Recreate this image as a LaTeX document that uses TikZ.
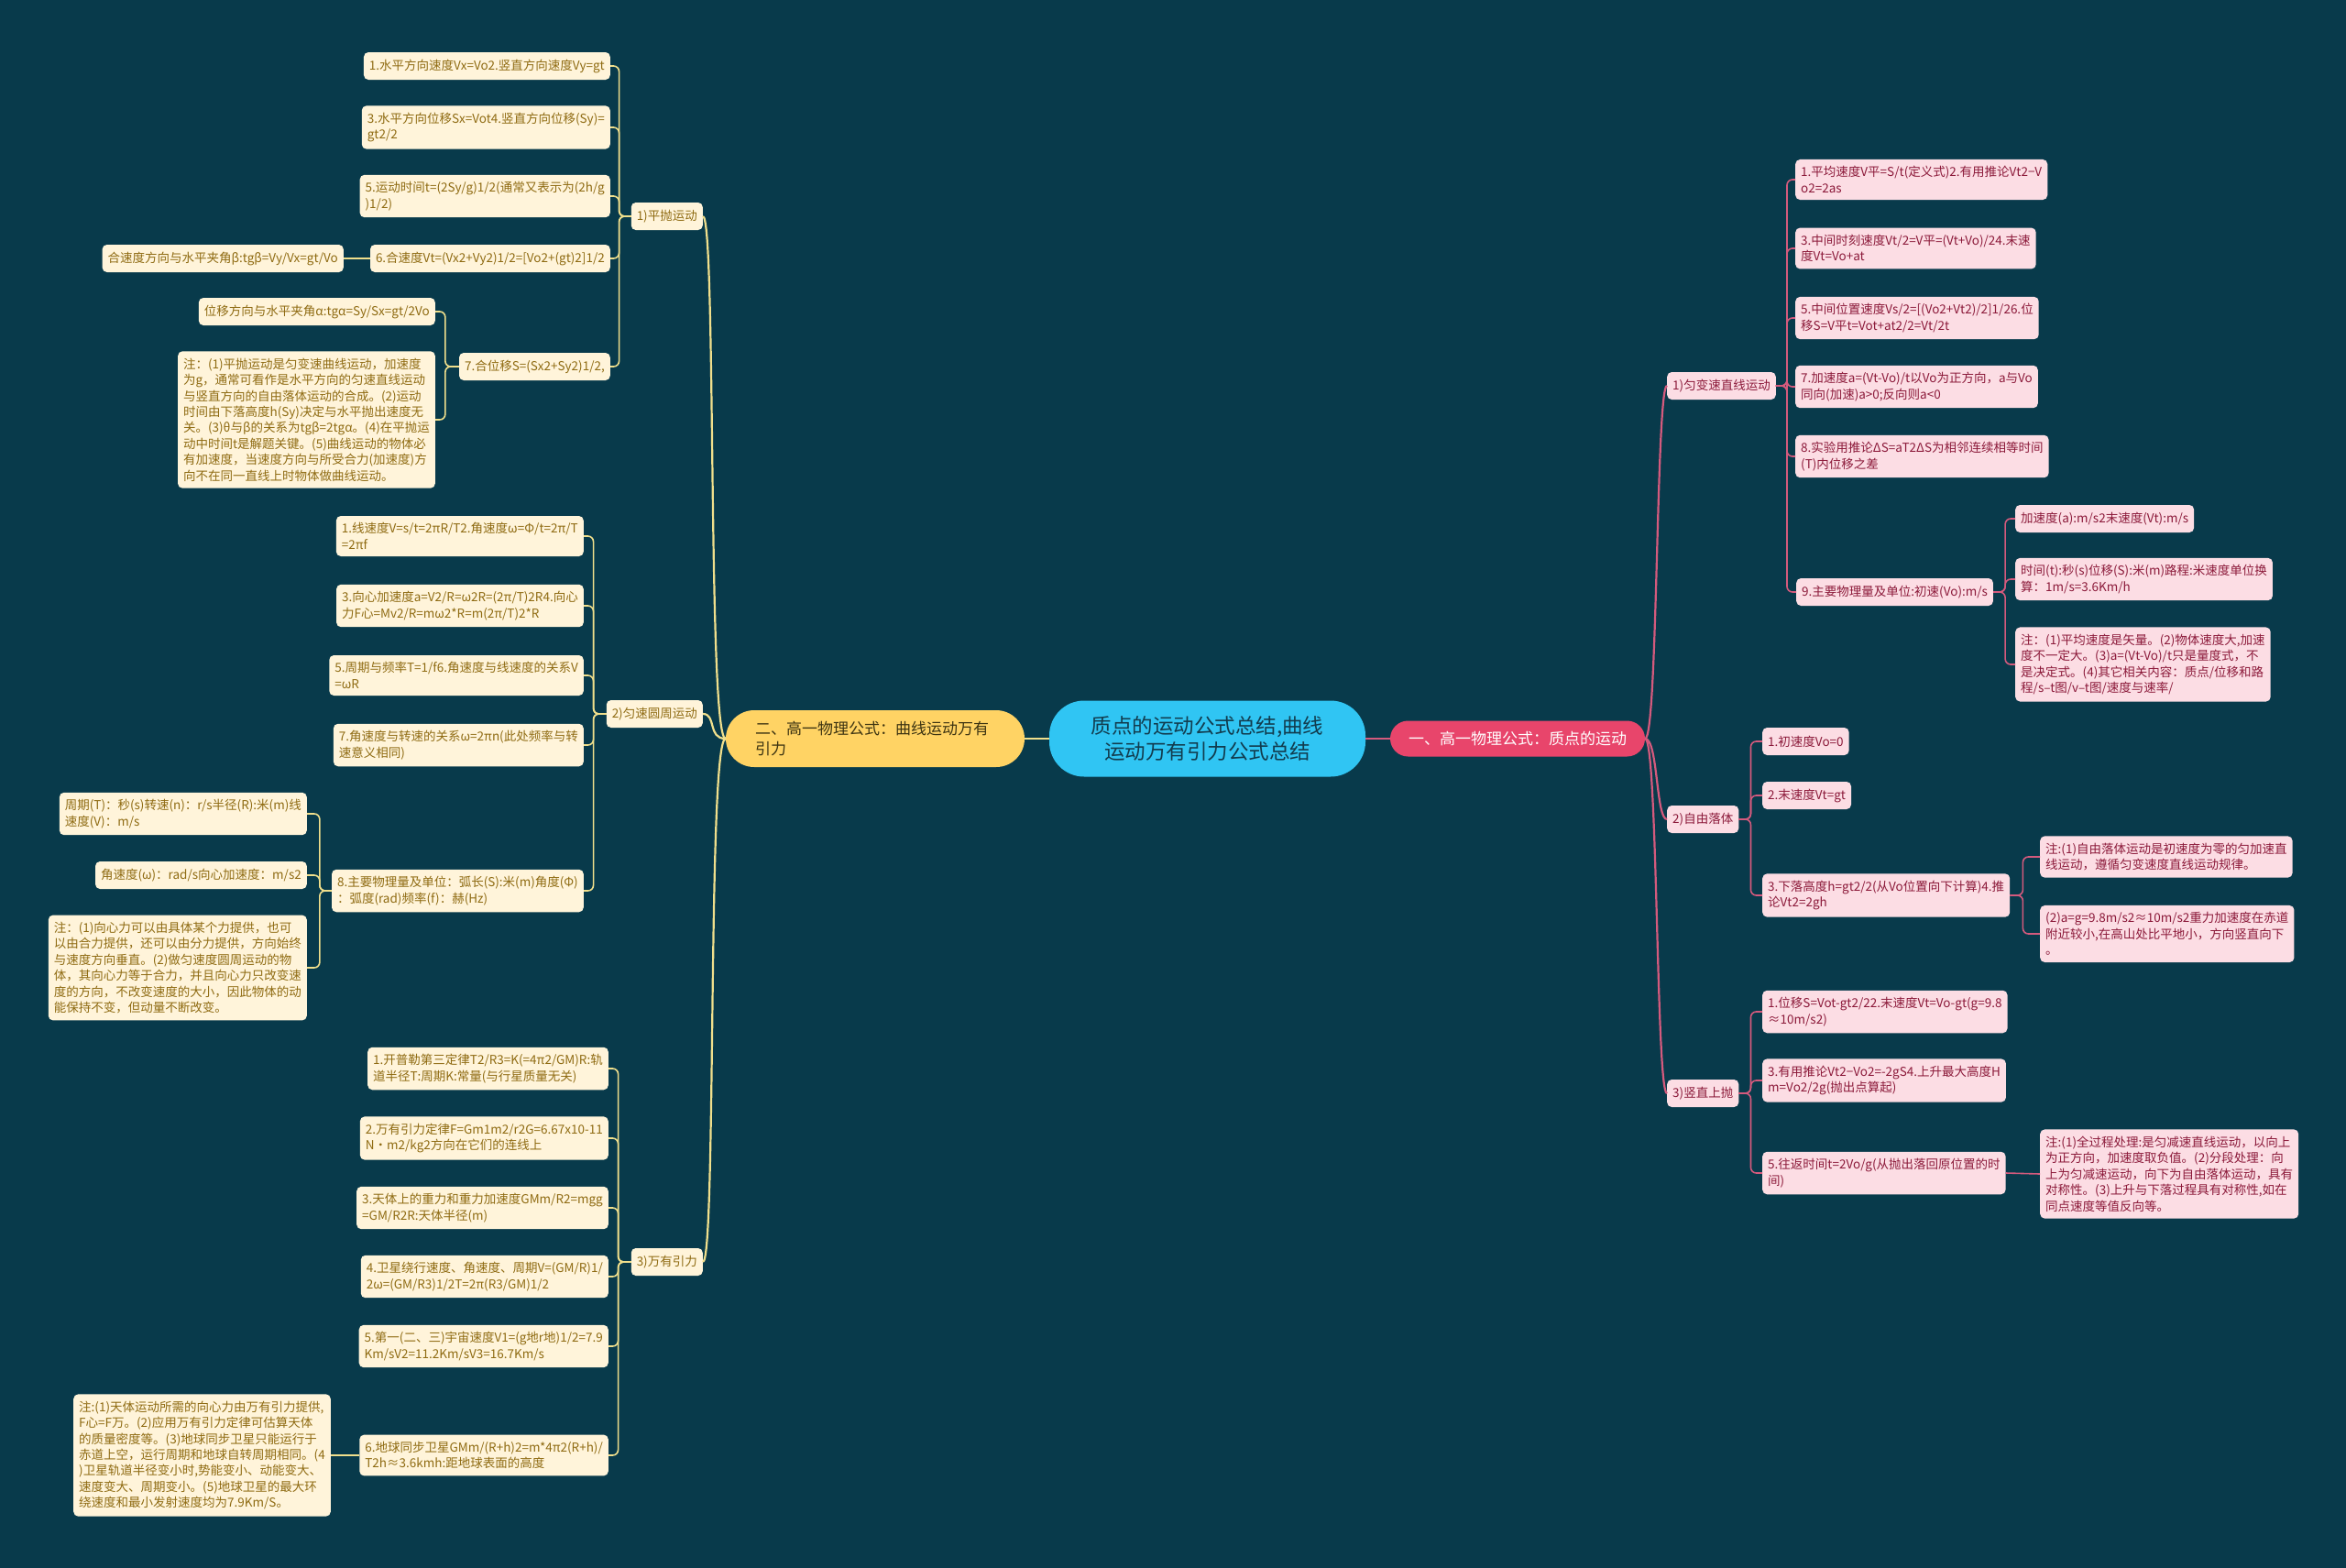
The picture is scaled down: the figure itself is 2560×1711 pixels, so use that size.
\documentclass[tikz,border=0pt]{standalone}
\usepackage{fontspec}
\setmainfont{Noto Sans CJK SC}
\usepackage{xcolor}
\usepackage{tikz}
\usetikzlibrary{positioning}
\definecolor{bgteal}{HTML}{083A4B}
\definecolor{rootblue}{HTML}{30C5F3}
\definecolor{rootink}{HTML}{123C4E}
\definecolor{sunyellow}{HTML}{FFD364}
\definecolor{sunink}{HTML}{3D3412}
\definecolor{rosered}{HTML}{E8456B}
\definecolor{cream}{HTML}{FFF4DA}
\definecolor{goldink}{HTML}{8F6B12}
\definecolor{goldline}{HTML}{F0DF8C}
\definecolor{blush}{HTML}{FCDDE4}
\definecolor{wineink}{HTML}{8C1A3A}
\definecolor{roseline}{HTML}{D45A7D}

\begin{document}
\begin{tikzpicture}[x=1pt, y=-1pt,
        root/.style={rectangle, rounded corners=38pt, fill=rootblue, text=rootink, font=\fontsize{22.5}{28.3}\selectfont, align=center, minimum width=345pt, minimum height=83pt},
        sideL/.style={rectangle, rounded corners=31pt, fill=sunyellow, text=sunink, font=\fontsize{17}{21.7}\selectfont, text width=262pt, align=left, inner xsep=32pt, minimum height=62pt},
        sideR/.style={rectangle, rounded corners=19.5pt, fill=rosered, text=white, font=\fontsize{17}{21}\selectfont, minimum width=278pt, minimum height=39pt},
        leafL/.style={rectangle, rounded corners=5pt, fill=cream, text=goldink, font=\fontsize{13.5}{17.4}\selectfont, align=left, inner xsep=6pt, inner ysep=7.5pt, minimum height=30pt},
        leafR/.style={leafL, fill=blush, text=wineink},
        trunkL/.style={draw=goldline, line width=2.2pt},
        trunkR/.style={draw=roseline, line width=2.2pt},
        linkL/.style={draw=goldline, line width=1.6pt, rounded corners=6pt},
        linkR/.style={draw=roseline, line width=1.6pt, rounded corners=6pt}
    ]
        \fill[bgteal] (0,0) rectangle (2560,1711);
        \useasboundingbox (0,0) rectangle (2560,1711);

        \node[root] (root) at (1317.5,806) {质点的运动公式总结,曲线\\运动万有引力公式总结};
        \node[sideL] (sideL) at (955,806) {二、高一物理公式：曲线运动万有\\引力};
        \node[sideR] (sideR) at (1656,806) {一、高一物理公式：质点的运动};
        \draw[trunkL] (root.west) -- (sideL.east);
        \draw[trunkR] (root.east) -- (sideR.west);

        % left half
        \node[leafL, anchor=east] (pp) at (767,236) {1)平抛运动};
        \node[leafL, anchor=east] (yz) at (767,779) {2)匀速圆周运动};
        \node[leafL, anchor=east] (wy) at (767,1377) {3)万有引力};
        \foreach \n in {pp,yz,wy}
            \draw[trunkL] (sideL.west) .. controls +(-20,0) and +(15,0) .. (\n.east);

        \node[leafL, anchor=east] (a1) at (666,72) {1.水平方向速度Vx=Vo2.竖直方向速度Vy=gt};
        \node[leafL, anchor=east] (a3) at (666,139) {3.水平方向位移Sx=Vot4.竖直方向位移(Sy)=\\gt2/2};
        \node[leafL, anchor=east] (a5) at (666,214) {5.运动时间t=(2Sy/g)1/2(通常又表示为(2h/g\\)1/2)};
        \node[leafL, anchor=east] (a6) at (666,282) {6.合速度Vt=(Vx2+Vy2)1/2=[Vo2+(gt)2]1/2};
        \node[leafL, anchor=east] (a7) at (666,400) {7.合位移S=(Sx2+Sy2)1/2,};
        \node[leafL, anchor=east] (a6x) at (375,282) {合速度方向与水平夹角β:tgβ=Vy/Vx=gt/Vo};
        \node[leafL, anchor=east] (a7x) at (475,340) {位移方向与水平夹角α:tgα=Sy/Sx=gt/2Vo};
        \node[leafL, anchor=east] (a7n) at (475,458) {注：(1)平抛运动是匀变速曲线运动，加速度\\为g，通常可看作是水平方向的匀速直线运动\\与竖直方向的自由落体运动的合成。(2)运动\\时间由下落高度h(Sy)决定与水平抛出速度无\\关。(3)θ与β的关系为tgβ=2tgα。(4)在平抛运\\动中时间t是解题关键。(5)曲线运动的物体必\\有加速度，当速度方向与所受合力(加速度)方\\向不在同一直线上时物体做曲线运动。};
        \foreach \n in {a1,a3,a5,a6,a7}
            \draw[linkL] (pp.west) -- ++(-13,0) |- (\n.east);
        \draw[linkL] (a6.west) -- (a6x.east);
        \draw[linkL] (a7.west) -- ++(-15,0) |- (a7x.east);
        \draw[linkL] (a7.west) -- ++(-15,0) |- (a7n.east);

        \node[leafL, anchor=east] (b1) at (637,585) {1.线速度V=s/t=2πR/T2.角速度ω=Φ/t=2π/T\\=2πf};
        \node[leafL, anchor=east] (b3) at (637,661) {3.向心加速度a=V2/R=ω2R=(2π/T)2R4.向心\\力F心=Mv2/R=mω2*R=m(2π/T)2*R};
        \node[leafL, anchor=east] (b5) at (637,737) {5.周期与频率T=1/f6.角速度与线速度的关系V\\=ωR};
        \node[leafL, anchor=east] (b7) at (637,813) {7.角速度与转速的关系ω=2πn(此处频率与转\\速意义相同)};
        \node[leafL, anchor=east] (b8) at (637,972) {8.主要物理量及单位：弧长(S):米(m)角度(Φ)\\：弧度(rad)频率(f)：赫(Hz)};
        \node[leafL, anchor=east] (b8a) at (335,888) {周期(T)：秒(s)转速(n)：r/s半径(R):米(m)线\\速度(V)：m/s};
        \node[leafL, anchor=east] (b8b) at (335,955) {角速度(ω)：rad/s向心加速度：m/s2};
        \node[leafL, anchor=east] (b8n) at (335,1056) {注：(1)向心力可以由具体某个力提供，也可\\以由合力提供，还可以由分力提供，方向始终\\与速度方向垂直。(2)做匀速度圆周运动的物\\体，其向心力等于合力，并且向心力只改变速\\度的方向，不改变速度的大小，因此物体的动\\能保持不变，但动量不断改变。};
        \foreach \n in {b1,b3,b5,b7,b8}
            \draw[linkL] (yz.west) -- ++(-14,0) |- (\n.east);
        \foreach \n in {b8a,b8b,b8n}
            \draw[linkL] (b8.west) -- ++(-13,0) |- (\n.east);

        \node[leafL, anchor=east] (c1) at (664,1166) {1.开普勒第三定律T2/R3=K(=4π2/GM)R:轨\\道半径T:周期K:常量(与行星质量无关)};
        \node[leafL, anchor=east] (c2) at (664,1242) {2.万有引力定律F=Gm1m2/r2G=6.67x10-11\\N·m2/kg2方向在它们的连线上};
        \node[leafL, anchor=east] (c3) at (664,1318) {3.天体上的重力和重力加速度GMm/R2=mgg\\=GM/R2R:天体半径(m)};
        \node[leafL, anchor=east] (c4) at (664,1393) {4.卫星绕行速度、角速度、周期V=(GM/R)1/\\2ω=(GM/R3)1/2T=2π(R3/GM)1/2};
        \node[leafL, anchor=east] (c5) at (664,1469) {5.第一(二、三)宇宙速度V1=(g地r地)1/2=7.9\\Km/sV2=11.2Km/sV3=16.7Km/s};
        \node[leafL, anchor=east] (c6) at (664,1588) {6.地球同步卫星GMm/(R+h)2=m*4π2(R+h)/\\T2h≈3.6kmh:距地球表面的高度};
        \node[leafL, anchor=east] (c6n) at (361,1588) {注:(1)天体运动所需的向心力由万有引力提供,\\F心=F万。(2)应用万有引力定律可估算天体\\的质量密度等。(3)地球同步卫星只能运行于\\赤道上空，运行周期和地球自转周期相同。(4\\)卫星轨道半径变小时,势能变小、动能变大、\\速度变大、周期变小。(5)地球卫星的最大环\\绕速度和最小发射速度均为7.9Km/S。};
        \foreach \n in {c1,c2,c3,c4,c5,c6}
            \draw[linkL] (wy.west) -- ++(-14,0) |- (\n.east);
        \draw[linkL] (c6.west) -- (c6n.east);

        % right half
        \node[leafR, anchor=west] (uv) at (1819,421) {1)匀变速直线运动};
        \node[leafR, anchor=west] (zl) at (1819,894) {2)自由落体};
        \node[leafR, anchor=west] (ss) at (1819,1193) {3)竖直上抛};
        \foreach \n in {uv,zl,ss}
            \draw[trunkR] (sideR.east) .. controls +(14,0) and +(-12,0) .. (\n.west);

        \node[leafR, anchor=west] (r1) at (1959,196) {1.平均速度V平=S/t(定义式)2.有用推论Vt2−V\\o2=2as};
        \node[leafR, anchor=west] (r3) at (1959,271) {3.中间时刻速度Vt/2=V平=(Vt+Vo)/24.末速\\度Vt=Vo+at};
        \node[leafR, anchor=west] (r5) at (1959,347) {5.中间位置速度Vs/2=[(Vo2+Vt2)/2]1/26.位\\移S=V平t=Vot+at2/2=Vt/2t};
        \node[leafR, anchor=west] (r7) at (1959,422) {7.加速度a=(Vt-Vo)/t以Vo为正方向，a与Vo\\同向(加速)a>0;反向则a<0};
        \node[leafR, anchor=west] (r8) at (1959,498) {8.实验用推论ΔS=aT2ΔS为相邻连续相等时间\\(T)内位移之差};
        \node[leafR, anchor=west] (r9) at (1960,646) {9.主要物理量及单位:初速(Vo):m/s};
        \node[leafR, anchor=west] (r9a) at (2199,566) {加速度(a):m/s2末速度(Vt):m/s};
        \node[leafR, anchor=west] (r9b) at (2199,632) {时间(t):秒(s)位移(S):米(m)路程:米速度单位换\\算：1m/s=3.6Km/h};
        \node[leafR, anchor=west] (r9n) at (2199,725) {注：(1)平均速度是矢量。(2)物体速度大,加速\\度不一定大。(3)a=(Vt-Vo)/t只是量度式，不\\是决定式。(4)其它相关内容：质点/位移和路\\程/s--t图/v--t图/速度与速率/};
        \foreach \n in {r1,r3,r5,r7,r8,r9}
            \draw[linkR] (uv.east) -- ++(12,0) |- (\n.west);
        \foreach \n in {r9a,r9b,r9n}
            \draw[linkR] (r9.east) -- ++(13,0) |- (\n.west);

        \node[leafR, anchor=west] (f1) at (1923,809) {1.初速度Vo=0};
        \node[leafR, anchor=west] (f2) at (1923,868) {2.末速度Vt=gt};
        \node[leafR, anchor=west] (f3) at (1923,977) {3.下落高度h=gt2/2(从Vo位置向下计算)4.推\\论Vt2=2gh};
        \node[leafR, anchor=west] (f3a) at (2226,935) {注:(1)自由落体运动是初速度为零的匀加速直\\线运动，遵循匀变速度直线运动规律。};
        \node[leafR, anchor=west] (f3b) at (2226,1019) {(2)a=g=9.8m/s2≈10m/s2重力加速度在赤道\\附近较小,在高山处比平地小，方向竖直向下\\。};
        \foreach \n in {f1,f2,f3}
            \draw[linkR] (zl.east) -- ++(13,0) |- (\n.west);
        \foreach \n in {f3a,f3b}
            \draw[linkR] (f3.east) -- ++(14,0) |- (\n.west);

        \node[leafR, anchor=west] (u1) at (1923,1104) {1.位移S=Vot-gt2/22.末速度Vt=Vo-gt(g=9.8\\≈10m/s2)};
        \node[leafR, anchor=west] (u3) at (1923,1179) {3.有用推论Vt2−Vo2=-2gS4.上升最大高度H\\m=Vo2/2g(抛出点算起)};
        \node[leafR, anchor=west] (u5) at (1923,1280) {5.往返时间t=2Vo/g(从抛出落回原位置的时\\间)};
        \node[leafR, anchor=west] (u5n) at (2226,1281) {注:(1)全过程处理:是匀减速直线运动，以向上\\为正方向，加速度取负值。(2)分段处理：向\\上为匀减速运动，向下为自由落体运动，具有\\对称性。(3)上升与下落过程具有对称性,如在\\同点速度等值反向等。};
        \foreach \n in {u1,u3,u5}
            \draw[linkR] (ss.east) -- ++(13,0) |- (\n.west);
        \draw[linkR] (u5.east) -- (u5n.west);
    \end{tikzpicture}
\end{document}
